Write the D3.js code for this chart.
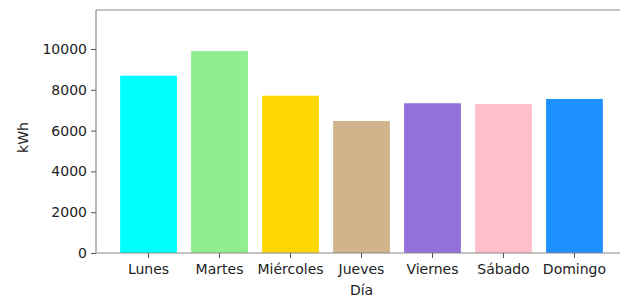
<!DOCTYPE html>
<html><head><meta charset="utf-8">
<script src="https://cdn.jsdelivr.net/npm/d3@7"></script>
<style>html,body{margin:0;padding:0;background:#fff;overflow:hidden}</style>
</head><body>
<svg id="c" width="620" height="299"></svg>
<script>
const dias = ["Lunes","Martes","Miércoles","Jueves","Viernes","Sábado","Domingo"];
const kwh = [8690, 9900, 7710, 6470, 7340, 7300, 7550];
const colores = ["#00ffff","#90ee90","#ffd700","#d2b48c","#9370db","#ffc0cb","#1e90ff"];
const yTicks = [0, 2000, 4000, 6000, 8000, 10000];

const svg = d3.select("#c");
const L = 96, R = 627, T = 10, B = 253;
const font = "DejaVu Sans, sans-serif";

const x = d3.scaleLinear().domain([-0.74, 6.74]).range([L, R]);
const y = d3.scaleLinear().domain([0, 11910]).range([B, T]);

svg.append("g").selectAll("rect").data(kwh).join("rect")
  .attr("x", (d,i) => x(i - 0.4))
  .attr("width", (d,i) => x(i + 0.4) - x(i - 0.4))
  .attr("y", d => y(d))
  .attr("height", d => y(0) - y(d))
  .attr("fill", (d,i) => colores[i]);

// spines
const sp = "#8a8a8a";
svg.append("line").attr("x1",L).attr("x2",L).attr("y1",T).attr("y2",B).attr("stroke",sp).attr("stroke-width",1.2);
svg.append("line").attr("x1",L).attr("x2",R).attr("y1",B).attr("y2",B).attr("stroke",sp).attr("stroke-width",1.2);
svg.append("line").attr("x1",L).attr("x2",R).attr("y1",T).attr("y2",T).attr("stroke",sp).attr("stroke-width",1.2);
svg.append("line").attr("x1",R).attr("x2",R).attr("y1",T).attr("y2",B).attr("stroke",sp).attr("stroke-width",1.2);

const yAxis = d3.axisLeft(y).tickValues(yTicks).tickSize(5).tickPadding(4).tickFormat(d3.format("d"));
const gy = svg.append("g").attr("transform",`translate(${L},0)`).call(yAxis);
gy.select(".domain").remove();
gy.selectAll("line").attr("stroke","#555");
gy.selectAll("text").attr("font-family",font).attr("font-size",14).attr("fill","#222");

const xb = d3.scaleBand().domain(dias).range([x(-0.5), x(6.5)]);
const xAxis = d3.axisBottom(xb).tickSize(5).tickPadding(6);
const gx = svg.append("g").attr("transform",`translate(0,${B})`).call(xAxis);
gx.select(".domain").remove();
gx.selectAll("line").attr("stroke","#555");
gx.selectAll("text").attr("font-family",font).attr("font-size",14).attr("fill","#222");

svg.append("text").attr("x",(L+R)/2).attr("y",295).attr("text-anchor","middle")
  .attr("font-family",font).attr("font-size",14).attr("fill","#222").text("Día");
svg.append("text").attr("transform",`translate(28,${(T+B)/2+6}) rotate(-90)`).attr("text-anchor","middle")
  .attr("font-family",font).attr("font-size",14).attr("fill","#222").text("kWh");
</script>
</body></html>
